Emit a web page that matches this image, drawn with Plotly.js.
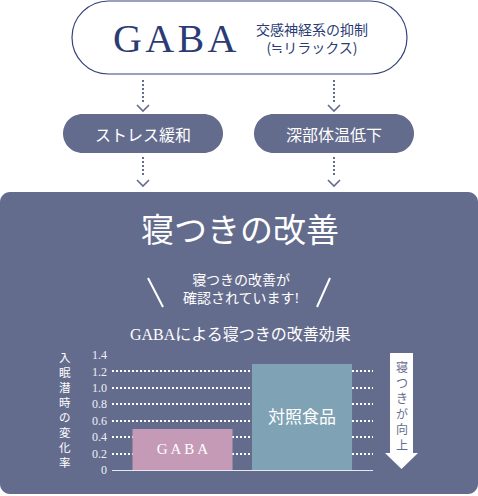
<!DOCTYPE html>
<html>
<head>
<meta charset="utf-8">
<script src="https://cdn.plot.ly/plotly-3.0.1.min.js"></script>
<style>
  html, body { margin: 0; padding: 0; background: #fff; }
  #chart { width: 478px; height: 496px; }
</style>
</head>
<body>
<div id="chart"></div>
<script>
// ---- data ----
const categories = ['GABA', '対照食品'];
const barLabels = ['G\u2009A\u2009B\u2009A', '対照食品'];
const values = [0.50, 1.29];
const yTickVals = [0, 0.2, 0.4, 0.6, 0.8, 1.0, 1.2, 1.4];
const yTickText = ['0', '0.2', '0.4', '0.6', '0.8', '1.0', '1.2', '1.4'];

// ---- colours / fonts ----
const W = 478, H = 496;
const navy = '#2b3c74';
const panel = '#646c8e';
const pink = '#c59ab6';
const blue = '#7fa3b5';
const serif = '"Liberation Serif", "Noto Sans CJK JP", serif';
const jp = '"Liberation Serif", "Noto Sans CJK JP", sans-serif';

// pixel -> paper helpers
const X = px => px / W;
const Y = py => 1 - py / H;
const P = (px, py) => X(px) + ',' + Y(py);

// rounded rect path (corners via cubic curves)
function roundRect(x0, y0, x1, y1, r) {
  const k = 0.552 * r;
  return 'M' + P(x0 + r, y0) +
    ' L' + P(x1 - r, y0) +
    ' C' + P(x1 - r + k, y0) + ' ' + P(x1, y0 + r - k) + ' ' + P(x1, y0 + r) +
    ' L' + P(x1, y1 - r) +
    ' C' + P(x1, y1 - r + k) + ' ' + P(x1 - r + k, y1) + ' ' + P(x1 - r, y1) +
    ' L' + P(x0 + r, y1) +
    ' C' + P(x0 + r - k, y1) + ' ' + P(x0, y1 - r + k) + ' ' + P(x0, y1 - r) +
    ' L' + P(x0, y0 + r) +
    ' C' + P(x0, y0 + r - k) + ' ' + P(x0 + r - k, y0) + ' ' + P(x0 + r, y0) + ' Z';
}

const shapes = [];
const annotations = [];

function txt(text, x, y, size, color, font, extra) {
  annotations.push(Object.assign({
    text, x: X(x), y: Y(y), xref: 'paper', yref: 'paper',
    xanchor: 'center', yanchor: 'middle', showarrow: false,
    font: { family: font || jp, size, color }
  }, extra || {}));
}

// ---- top pill ----
shapes.push({ type: 'path', xref: 'paper', yref: 'paper', layer: 'below',
  path: roundRect(72, 1, 407, 74, 36.5), fillcolor: '#fff', line: { color: '#34447a', width: 1.2 } });
txt('G\u200AA\u200AB\u200AA', 174, 39, 40, navy, serif);
txt('交感神経系の抑制<br>(≒リラックス)', 312, 38, 14, navy, '"Noto Sans CJK JP", sans-serif', { borderpad: 0 });

// ---- dotted connectors ----
function connector(x, y0, y1) {
  shapes.push({ type: 'line', xref: 'paper', yref: 'paper', layer: 'below',
    x0: X(x), x1: X(x), y0: Y(y0), y1: Y(y1), line: { color: panel, width: 2, dash: '2px,2px' } });
  shapes.push({ type: 'path', xref: 'paper', yref: 'paper', layer: 'below',
    path: 'M' + P(x - 6, y1 + 3) + ' L' + P(x, y1 + 9) + ' L' + P(x + 6, y1 + 3),
    line: { color: panel, width: 1.6 } });
}
connector(143, 80, 102);
connector(334, 80, 102);
connector(143, 157, 177);
connector(334, 157, 177);

// ---- middle pills ----
shapes.push({ type: 'path', xref: 'paper', yref: 'paper', layer: 'below',
  path: roundRect(63, 114, 223, 153, 19.5), fillcolor: panel, line: { width: 0 } });
shapes.push({ type: 'path', xref: 'paper', yref: 'paper', layer: 'below',
  path: roundRect(254, 114, 414, 153, 19.5), fillcolor: panel, line: { width: 0 } });
txt('ストレス緩和', 143, 134, 16, '#fff', '"Noto Sans CJK JP", sans-serif');
txt('深部体温低下', 334, 134, 16, '#fff', '"Noto Sans CJK JP", sans-serif');

// ---- big panel ----
shapes.push({ type: 'path', xref: 'paper', yref: 'paper', layer: 'below',
  path: roundRect(0, 192, 478, 494, 10), fillcolor: panel, line: { width: 0 } });
txt('寝つきの改善', 240, 231, 33, '#fff');
txt('寝つきの改善が<br>確認されています!', 241, 289, 14, '#fff', jp, { borderpad: 0 });
shapes.push({ type: 'line', xref: 'paper', yref: 'paper', x0: X(148), y0: Y(278), x1: X(163), y1: Y(307),
  line: { color: '#fff', width: 2 } });
shapes.push({ type: 'line', xref: 'paper', yref: 'paper', x0: X(330), y0: Y(278), x1: X(317), y1: Y(307),
  line: { color: '#fff', width: 2 } });
txt('GABAによる寝つきの改善効果', 240, 334, 16, '#fff');

// y axis title, stacked one character per line
txt(Array.from('入眠潜時の変化率').join('<br>'), 65, 410, 11.5, '#fff', jp, { borderpad: 0 });

// arrow on the right
shapes.push({ type: 'path', xref: 'paper', yref: 'paper',
  path: 'M' + P(390, 353) + ' L' + P(413, 353) + ' L' + P(413, 453) + ' L' + P(418, 453) +
        ' L' + P(401.5, 469) + ' L' + P(385, 453) + ' L' + P(390, 453) + ' Z',
  fillcolor: '#fff', line: { width: 0 } });
txt(Array.from('寝つきが向上').join('<br>'), 401.5, 407, 12, panel, jp, { borderpad: 0 });

// ---- bar chart ----
const trace = {
  type: 'bar',
  x: categories,
  y: values,
  width: 0.837,
  marker: { color: [pink, blue], line: { width: 0 } },
  text: barLabels,
  texttemplate: '%{text}',
  textposition: 'inside',
  insidetextanchor: 'middle',
  textangle: 0,
  textfont: { family: jp, size: [15, 17], color: '#fff' },
  hoverinfo: 'skip'
};

const layout = {
  width: W, height: H,
  margin: { l: 0, r: 0, t: 0, b: 0 },
  paper_bgcolor: '#fff',
  plot_bgcolor: 'rgba(0,0,0,0)',
  showlegend: false,
  xaxis: {
    domain: [X(112), X(373)],
    type: 'category',
    range: [-0.59, 1.594],
    showticklabels: false, ticks: '',
    showgrid: false, zeroline: false,
    showline: true, linecolor: '#e6e8ef', linewidth: 1
  },
  yaxis: {
    domain: [Y(470), Y(355)],
    range: [0, 1.4],
    tickvals: yTickVals, ticktext: yTickText,
    tickfont: { family: serif, size: 12, color: '#eef0f5' },
    ticks: '', ticklabelstandoff: 4,
    showgrid: true, gridcolor: '#ffffff', gridwidth: 2, griddash: '2px,2px',
    zeroline: false, showline: false
  },
  shapes, annotations
};

Plotly.newPlot('chart', [trace], layout, { displayModeBar: false, staticPlot: true });
</script>
</body>
</html>
